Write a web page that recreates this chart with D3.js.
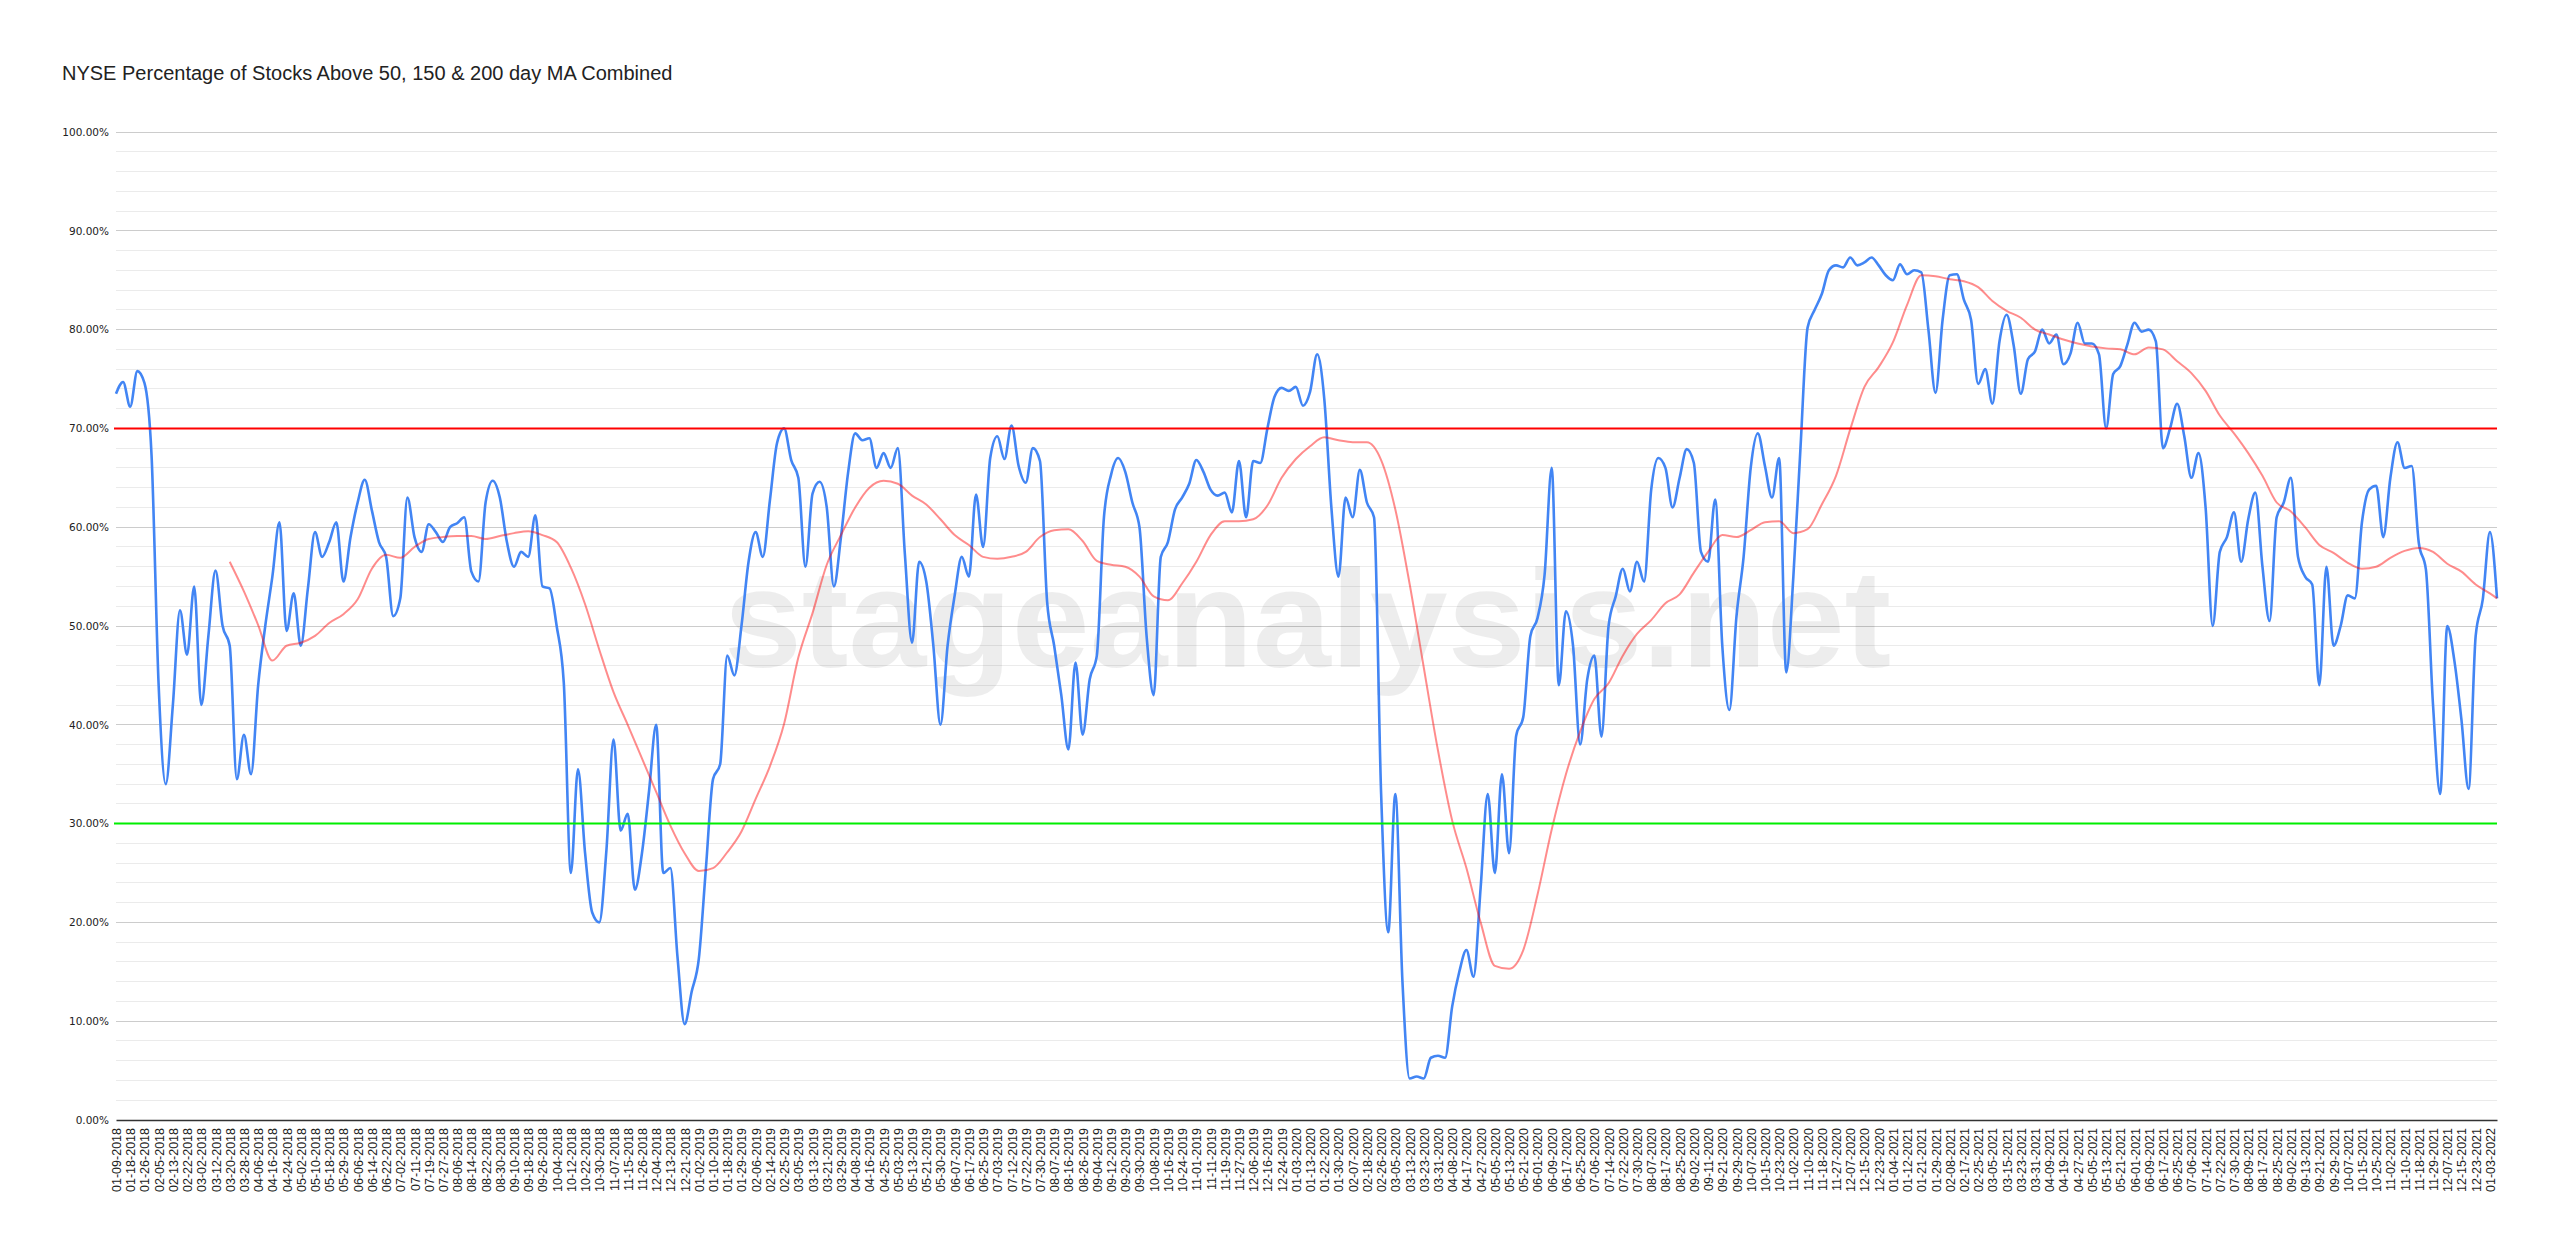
<!DOCTYPE html>
<html><head><meta charset="utf-8">
<script src="https://cdn.jsdelivr.net/npm/d3@7"></script>
<style>body{margin:0;background:#fff}svg{display:block}</style></head>
<body><svg id="c" width="2560" height="1250"></svg>
<script>
const chartTitle = "NYSE Percentage of Stocks Above 50, 150 & 200 day MA Combined";
const watermark = "stageanalysis.net";

// x-axis category labels (every 6th trading day)
const tickLabels = [
"01-09-2018","01-18-2018","01-26-2018","02-05-2018","02-13-2018","02-22-2018","03-02-2018","03-12-2018","03-20-2018","03-28-2018",
"04-06-2018","04-16-2018","04-24-2018","05-02-2018","05-10-2018","05-18-2018","05-29-2018","06-06-2018","06-14-2018","06-22-2018",
"07-02-2018","07-11-2018","07-19-2018","07-27-2018","08-06-2018","08-14-2018","08-22-2018","08-30-2018","09-10-2018","09-18-2018",
"09-26-2018","10-04-2018","10-12-2018","10-22-2018","10-30-2018","11-07-2018","11-15-2018","11-26-2018","12-04-2018","12-13-2018",
"12-21-2018","01-02-2019","01-10-2019","01-18-2019","01-29-2019","02-06-2019","02-14-2019","02-25-2019","03-05-2019","03-13-2019",
"03-21-2019","03-29-2019","04-08-2019","04-16-2019","04-25-2019","05-03-2019","05-13-2019","05-21-2019","05-30-2019","06-07-2019",
"06-17-2019","06-25-2019","07-03-2019","07-12-2019","07-22-2019","07-30-2019","08-07-2019","08-16-2019","08-26-2019","09-04-2019",
"09-12-2019","09-20-2019","09-30-2019","10-08-2019","10-16-2019","10-24-2019","11-01-2019","11-11-2019","11-19-2019","11-27-2019",
"12-06-2019","12-16-2019","12-24-2019","01-03-2020","01-13-2020","01-22-2020","01-30-2020","02-07-2020","02-18-2020","02-26-2020",
"03-05-2020","03-13-2020","03-23-2020","03-31-2020","04-08-2020","04-17-2020","04-27-2020","05-05-2020","05-13-2020","05-21-2020",
"06-01-2020","06-09-2020","06-17-2020","06-25-2020","07-06-2020","07-14-2020","07-22-2020","07-30-2020","08-07-2020","08-17-2020",
"08-25-2020","09-02-2020","09-11-2020","09-21-2020","09-29-2020","10-07-2020","10-15-2020","10-23-2020","11-02-2020","11-10-2020",
"11-18-2020","11-27-2020","12-07-2020","12-15-2020","12-23-2020","01-04-2021","01-12-2021","01-21-2021","01-29-2021","02-08-2021",
"02-17-2021","02-25-2021","03-05-2021","03-15-2021","03-23-2021","03-31-2021","04-09-2021","04-19-2021","04-27-2021","05-05-2021",
"05-13-2021","05-21-2021","06-01-2021","06-09-2021","06-17-2021","06-25-2021","07-06-2021","07-14-2021","07-22-2021","07-30-2021",
"08-09-2021","08-17-2021","08-25-2021","09-02-2021","09-13-2021","09-21-2021","09-29-2021","10-07-2021","10-15-2021","10-25-2021",
"11-02-2021","11-10-2021","11-18-2021","11-29-2021","12-07-2021","12-15-2021","12-23-2021","01-03-2022"
];

// % of stocks above MAs, read every 3 trading days
const pctAbove = [
73.5,74.7,72.2,75.8,74.6,67.3,44,34,42,51.6,47.1,54,42,49,55.6,50,48,34.5,39,35,
44,50,55,60.5,49.5,53.3,48,53.8,59.5,57,58.5,60.5,54.5,59,62.5,64.8,61.7,58.5,57,51,
52.8,63,59,57.5,60.3,59.5,58.5,60,60.4,61,55.5,54.5,62.5,64.7,63,58.5,56,57.5,57,61.2,
54,53.8,50,44.3,25,35.5,27,21,20,27.3,38.5,29.3,31,23.3,27,33.3,40,25,25.5,16.5,
9.7,13,16.3,25.5,34.5,36,47,45,50,56.5,59.5,57,62.7,68.5,70,66.8,65,56,63.4,64.6,
62,54,59,65.5,69.5,68.8,69,66,67.5,66,68,57.2,48.3,56.5,54.5,48,40,48,53.1,57,
55,63.3,58,67,69.2,66.9,70.3,66.2,64.5,68,66.7,52.5,48,43,37.5,46.3,39,44.6,47,61,
65.3,67,65.6,62.5,60,49,43,57,58.5,61.8,63,64.4,66.8,65.6,63.8,63.2,63.5,61.5,66.7,61,
66.7,66.5,70,73.2,74.1,73.8,74.2,72.3,73.7,77.5,73,62,55,63,61,65.8,62.5,61,33,19,
33,14,4.2,4.4,4.2,6.3,6.5,6.3,11.5,15,17.2,14.5,23.5,33,25,35,27,38.9,40.8,49,
50.8,55.2,66,44,51.5,48,38,44.6,47,38.8,50,53,55.8,53.5,56.5,54.5,63.8,67,66,62,
65,67.9,66.5,57.5,56.5,62.8,48,41.5,51,57,66,69.5,66.2,63,67,45.3,55,68,80.2,82,
83.6,86,86.5,86.3,87.3,86.5,86.8,87.3,86.5,85.5,85,86.6,85.6,86,85.8,80,73.6,81,85.5,85.6,
83,81,74.5,76,72.5,78.8,81.5,78.4,73.5,77,77.8,80,78.6,79.5,76.5,77.6,80.7,78.6,78.6,77.5,
70,75.5,76.3,78.5,80.7,79.8,80,78.8,68,70,72.5,69.2,65,67.5,62,50,57.5,59,61.5,56.5,
60.8,63.5,56,50.5,61,62.5,65,57,55,54.2,44,56,48,50,53.1,52.8,60.5,63.8,64.2,59,
65,68.6,66,66.2,58.4,55.7,42,33,50,46.5,40.5,33.5,49,52.7,59.5,52.8
];

// 50-day moving average, read at each axis label from label 8 on, plus last point
const movingAvg = [
56.5,53.5,50.1,46.5,48,48.3,49,50.3,51.2,52.7,55.8,57.2,56.9,58,58.8,59,59.1,59.1,58.8,59.1,
59.4,59.6,59.2,58.5,55.9,52.2,47.6,43.3,40,36.6,33.2,29.8,27,25.2,25.5,27.1,29.2,32.5,35.8,40.1,
46.8,51.3,56.2,59.2,62,64,64.7,64.4,63.2,62.3,60.8,59.2,58.2,57,56.8,57,57.5,59,59.7,59.8,
58.6,56.6,56.2,56,55,53,52.6,54.3,56.5,59.2,60.6,60.6,60.8,62.2,65,66.9,68.2,69.1,68.8,68.6,
68.6,66.8,61.8,54.3,45.8,37.4,30.3,25.5,20,15.6,15.3,17.2,22.8,29.4,35,39.3,42.6,44.2,47,49.2,
50.6,52.3,53.2,55.4,57.5,59.2,59,59.7,60.5,60.6,59.4,59.8,62.3,65.2,69.9,74.2,76.2,78.7,82.5,85.5,
85.4,85.1,84.9,84.3,82.9,81.9,81.2,80,79.5,79,78.6,78.3,78.1,78,77.5,78.2,78,76.8,75.6,73.8,
71.3,69.5,67.5,65.2,62.5,61.6,60,58.2,57.4,56.4,55.8,56,56.9,57.6,57.9,57.5,56.3,55.5,54.2,53.3,
52.8
];

const yTicks = [0,10,20,30,40,50,60,70,80,90,100];
const upperLevel = 70;
const lowerLevel = 30;
const stepDays = 3, labelStep = 6, maStartLabel = 8, lastDay = 1005;

const svg = d3.select("#c");
const L = 116, R = 2497, T = 132, B = 1120;
const x = d3.scaleLinear().domain([0, lastDay]).range([L, R]);
const y = d3.scaleLinear().domain([0, 100]).range([B, T]);

svg.append("rect").attr("width",2560).attr("height",1250).attr("fill","#fff");

// title
svg.append("text").attr("x",62).attr("y",80)
  .style("font-family","'Liberation Sans', Arial, sans-serif").style("font-size","20px").attr("fill","#222")
  .text(chartTitle);

// gridlines
const minor = d3.range(0, 101, 2).filter(v => v % 10 !== 0);
svg.append("g").selectAll("line").data(minor).join("line")
  .attr("x1",L).attr("x2",R).attr("y1",d=>y(d)).attr("y2",d=>y(d))
  .attr("stroke","#ebebeb").attr("stroke-width",1).attr("shape-rendering","crispEdges");
svg.append("g").selectAll("line").data(yTicks.filter(v=>v>0)).join("line")
  .attr("x1",L).attr("x2",R).attr("y1",d=>y(d)).attr("y2",d=>y(d))
  .attr("stroke","#cccccc").attr("stroke-width",1).attr("shape-rendering","crispEdges");

// watermark
svg.append("text").attr("x",724).attr("y",667)
  .style("font-family","'Liberation Sans', Arial, sans-serif").style("font-weight","bold").style("font-size","140px")
  .attr("fill","#000").attr("fill-opacity",0.07).text(watermark);

// y axis
const yAxis = d3.axisLeft(y).tickValues(yTicks).tickFormat(d => d.toFixed(2) + "%").tickSize(0).tickPadding(7);
const gy = svg.append("g").attr("transform",`translate(${L},0)`).call(yAxis);
gy.select(".domain").remove();
gy.selectAll("text").style("font-family","'DejaVu Sans', Verdana, sans-serif").style("font-size","10.5px").attr("fill","#222");

// x axis
const xAxis = d3.axisBottom(x).tickValues(tickLabels.map((d,i)=>i*labelStep))
  .tickFormat((d,i)=>tickLabels[i]).tickSize(0);
const gx = svg.append("g").attr("transform",`translate(0,${B})`).call(xAxis);
gx.select(".domain").attr("stroke","#333").attr("stroke-width",1.3);
gx.selectAll("text").attr("transform","rotate(-90)").attr("text-anchor","end")
  .attr("x",-8).attr("y",0).attr("dy","0.36em")
  .style("font-family","'Liberation Sans', Arial, sans-serif").style("font-size","12.5px").attr("fill","#222");

// main series
const line = d3.line().x(d=>x(d.day)).y(d=>y(d.v)).curve(d3.curveMonotoneX);
const blueData = pctAbove.map((v,k)=>({day:k*stepDays, v}));
svg.append("path").datum(blueData).attr("d",line).attr("fill","none")
  .attr("stroke","#4285f4").attr("stroke-width",2.6).attr("stroke-linejoin","round");

// moving average
const maData = movingAvg.map((v,j)=>({day:Math.min((maStartLabel+j)*labelStep, lastDay), v}));
svg.append("path").datum(maData).attr("d",line).attr("fill","none")
  .attr("stroke","#ff0000").attr("stroke-opacity",0.45).attr("stroke-width",2);

// level lines
svg.append("line").attr("x1",L-2).attr("x2",R).attr("y1",y(upperLevel)).attr("y2",y(upperLevel))
  .attr("stroke","#ff0000").attr("stroke-width",2);
svg.append("line").attr("x1",L-2).attr("x2",R).attr("y1",y(lowerLevel)).attr("y2",y(lowerLevel))
  .attr("stroke","#00ee00").attr("stroke-width",2);
</script></body></html>
